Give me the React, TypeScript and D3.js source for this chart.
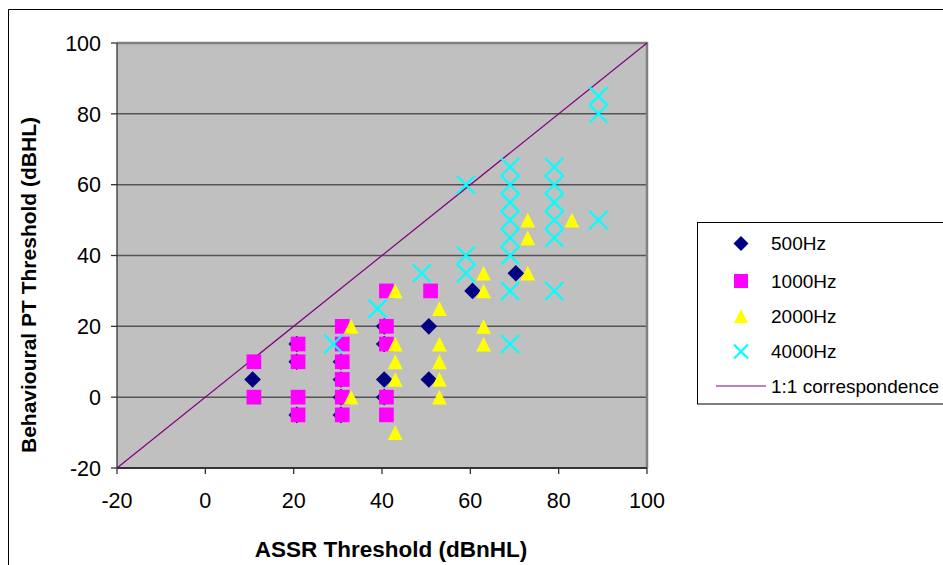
import React from "react";
import * as d3 from "d3";

type P = [number, number];

const series500: P[] = [
  [10.7, 5],
  [20.7, 15], [20.7, 10], [20.7, -5],
  [30.7, 10], [30.7, 5], [30.7, 0], [30.7, -5],
  [40.5, 20], [40.5, 15], [40.5, 5], [40.5, 0],
  [50.6, 20], [50.6, 5],
  [60.5, 30],
  [70.3, 35],
];
const series1000: P[] = [
  [11, 10], [11, 0],
  [21, 15], [21, 10], [21, 0], [21, -5],
  [31, 20], [31, 15], [31, 10], [31, 5], [31, 0], [31, -5],
  [41, 30], [41, 20], [41, 15], [41, 0], [41, -5],
  [51, 30],
];
const series2000: P[] = [
  [33, 20], [33, 0],
  [43, 30], [43, 15], [43, 10], [43, 5], [43, -10],
  [53, 25], [53, 15], [53, 10], [53, 5], [53, 0],
  [63, 35], [63, 30], [63, 20], [63, 15],
  [73, 50], [73, 45], [73, 35],
  [83, 50],
];
const series4000: P[] = [
  [29, 15],
  [39, 25],
  [49, 35],
  [59, 60], [59, 40], [59, 35],
  [69, 65], [69, 60], [69, 55], [69, 50], [69, 45], [69, 40], [69, 30], [69, 15],
  [79, 65], [79, 60], [79, 55], [79, 50], [79, 45], [79, 30],
  [89, 85], [89, 80], [89, 50],
];
const lineData: P[] = [[-20, -20], [100, 100]];

const xTicks = [-20, 0, 20, 40, 60, 80, 100];
const yTicks = [-20, 0, 20, 40, 60, 80, 100];
const gridValues = [0, 20, 40, 60, 80];
const legendLabels = ["500Hz", "1000Hz", "2000Hz", "4000Hz", "1:1 correspondence"];

const FONT = "'Liberation Sans', Arial, sans-serif";

function Diamond({ x, y, r, fill }: { x: number; y: number; r: number; fill: string }) {
  return <path d={`M${x},${y - r}L${x + r},${y}L${x},${y + r}L${x - r},${y}Z`} fill={fill} />;
}
function Square({ x, y, s, fill }: { x: number; y: number; s: number; fill: string }) {
  return <rect x={x - s / 2} y={y - s / 2} width={s} height={s} fill={fill} />;
}
function Tri({ x, y, s, fill }: { x: number; y: number; s: number; fill: string }) {
  const h = s;
  return <path d={`M${x},${y - h / 2}L${x + s / 2},${y + h / 2}L${x - s / 2},${y + h / 2}Z`} fill={fill} />;
}
function Cross({ x, y, r, stroke }: { x: number; y: number; r: number; stroke: string }) {
  return (
    <path
      d={`M${x - r},${y - r}L${x + r},${y + r}M${x - r},${y + r}L${x + r},${y - r}`}
      stroke={stroke}
      strokeWidth={2.2}
      fill="none"
    />
  );
}

export default function App() {
  const x = d3.scaleLinear().domain([-20, 100]).range([117, 647]);
  const y = d3.scaleLinear().domain([-20, 100]).range([468, 43]);
  const line = d3.line<P>().x((d) => x(d[0])).y((d) => y(d[1]));

  const legendX = 741;
  const legendTextX = 771;
  const legendRows = [243.5, 281, 316, 351.5, 386];

  return (
    <svg
      width={943}
      height={565}
      style={{ position: "fixed", left: 0, top: 0, background: "#fff" }}
      fontFamily={FONT}
    >
      <rect x={0} y={0} width={943} height={565} fill="#fff" />
      {/* outer chart border */}
      <path d="M8.5,570V9.5H950" stroke="#000" strokeWidth={1} fill="none" />

      {/* plot area */}
      <rect x={x(-20)} y={y(100)} width={x(100) - x(-20)} height={y(-20) - y(100)} fill="#C0C0C0" />
      {gridValues.map((v) => (
        <line key={v} x1={x(-20)} x2={x(100)} y1={y(v)} y2={y(v)} stroke="#555" strokeWidth={1.5} />
      ))}
      {/* plot border top/right */}
      <path d={`M${x(-20)},${y(100)}H${x(100)}V${y(-20)}`} stroke="#808080" strokeWidth={2.5} fill="none" />
      {/* axes */}
      <line x1={x(-20)} x2={x(-20)} y1={y(100)} y2={y(-20)} stroke="#333" strokeWidth={1.3} />
      <line x1={x(-20)} x2={x(100)} y1={y(-20)} y2={y(-20)} stroke="#333" strokeWidth={2} />

      {/* y ticks */}
      {yTicks.map((t) => (
        <g key={"y" + t}>
          <line x1={x(-20) - 6} x2={x(-20)} y1={y(t)} y2={y(t)} stroke="#333" strokeWidth={1.3} />
          <text x={101} y={y(t)} dy="0.36em" textAnchor="end" fontSize={21.5} fill="#000">
            {t}
          </text>
        </g>
      ))}
      {/* x ticks */}
      {xTicks.map((t) => (
        <g key={"x" + t}>
          <line x1={x(t)} x2={x(t)} y1={y(-20)} y2={y(-20) + 6} stroke="#333" strokeWidth={1.3} />
          <text x={x(t)} y={507.5} textAnchor="middle" fontSize={21.5} fill="#000">
            {t}
          </text>
        </g>
      ))}

      {/* 1:1 line */}
      <path d={line(lineData) || ""} stroke="#800080" strokeWidth={1.2} fill="none" />

      {/* series */}
      {series500.map((d, i) => (
        <Diamond key={"a" + i} x={x(d[0])} y={y(d[1])} r={8.3} fill="#000080" />
      ))}
      {series1000.map((d, i) => (
        <Square key={"b" + i} x={x(d[0])} y={y(d[1])} s={14.7} fill="#FF00FF" />
      ))}
      {series2000.map((d, i) => (
        <Tri key={"c" + i} x={x(d[0])} y={y(d[1])} s={14.8} fill="#FFFF00" />
      ))}
      {series4000.map((d, i) => (
        <Cross key={"d" + i} x={x(d[0])} y={y(d[1])} r={9} stroke="#00FFFF" />
      ))}

      {/* axis titles */}
      <text x={391} y={557} textAnchor="middle" fontSize={22.5} fontWeight="bold" fill="#000">
        ASSR Threshold (dBnHL)
      </text>
      <text
        transform={`translate(36,285) rotate(-90)`}
        textAnchor="middle"
        fontSize={21}
        fontWeight="bold"
        fill="#000"
      >
        Behavioural PT Threshold (dBHL)
      </text>

      {/* legend */}
      <rect x={697.5} y={222.5} width={300} height={181.5} fill="#fff" stroke="#000" strokeWidth={1} />
      <Diamond x={legendX} y={legendRows[0]} r={7.5} fill="#000080" />
      <Square x={legendX} y={legendRows[1]} s={14} fill="#FF00FF" />
      <Tri x={legendX} y={legendRows[2]} s={14} fill="#FFFF00" />
      <Cross x={legendX} y={legendRows[3]} r={7} stroke="#00FFFF" />
      <line x1={716} x2={766} y1={legendRows[4]} y2={legendRows[4]} stroke="#800080" strokeWidth={1} />
      {legendLabels.map((l, i) => (
        <text key={l} x={legendTextX} y={legendRows[i]} dy="0.36em" fontSize={19} fill="#000">
          {l}
        </text>
      ))}
    </svg>
  );
}
